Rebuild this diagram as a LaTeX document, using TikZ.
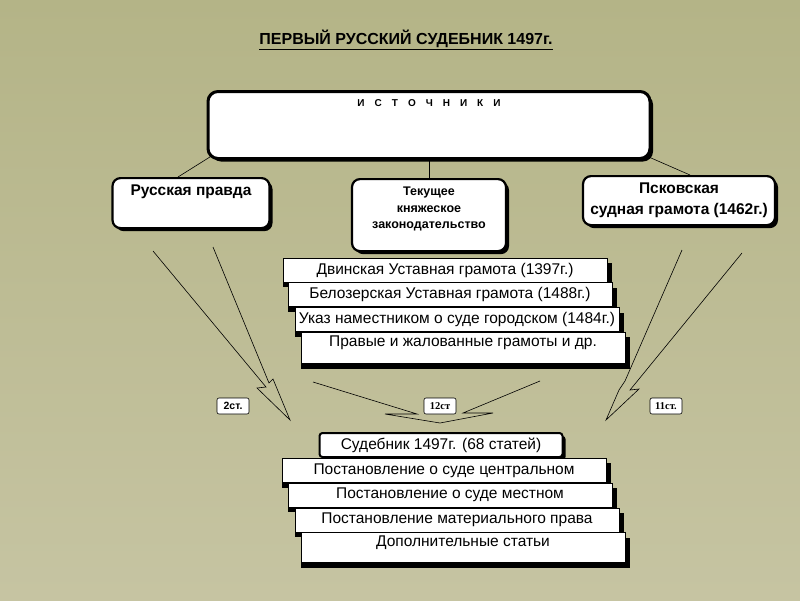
\documentclass[tikz,border=0pt]{standalone}
\usepackage{fontspec}
\setmainfont{Liberation Sans}
\newfontfamily\tagserif{Liberation Serif}
\usetikzlibrary{positioning,shadows}
\definecolor{bgtop}{HTML}{B4B487}
\definecolor{bgbottom}{HTML}{C6C4A2}

\begin{document}
\begin{tikzpicture}[x=1pt, y=-1pt,
  srcbox/.style={rectangle, rounded corners=8pt, draw=black, line width=2.2pt, fill=white,
                 align=center, inner sep=5pt,
                 drop shadow={shadow xshift=3pt, shadow yshift=-3pt, fill=black, opacity=1}},
  listbox/.style={rectangle, draw=black, line width=0.8pt, fill=white, minimum width=324pt,
                  minimum height=24pt, inner sep=0pt, font=\fontsize{15.5}{17}\selectfont,
                  drop shadow={shadow xshift=2.5pt, shadow yshift=-5pt, shadow scale=1.015,
                               fill=black, opacity=1}},
  tag/.style={rectangle, rounded corners=2pt, draw=black, line width=0.6pt, fill=white,
              minimum width=32pt, minimum height=16pt, inner sep=1pt,
              font=\bfseries\fontsize{10.5}{12}\selectfont},
  lnk/.style={draw=black, line width=0.6pt},
  hollow/.style={draw=black, line width=0.6pt, line join=miter}
]
  \shade[top color=bgtop, bottom color=bgbottom] (0,0) rectangle (800,600);
  \useasboundingbox (0,0) rectangle (800,600);

  \node[font=\bfseries\fontsize{16}{18}\selectfont] (title) at (406,40) {\underline{ПЕРВЫЙ РУССКИЙ СУДЕБНИК 1497г.}};

  % sources
  \node[srcbox, rounded corners=10pt, line width=3pt, minimum width=442pt, minimum height=67pt,
        anchor=north, font=\bfseries\fontsize{10}{11}\selectfont, text height=8pt, text depth=45pt]
        (sources) at (429,90) {\spaceskip=10pt И С Т О Ч Н И К И};
  \node[srcbox, minimum width=157pt, minimum height=50pt, anchor=north,
        font=\bfseries\fontsize{15.5}{17}\selectfont, text height=12pt, text depth=28pt]
        (pravda) at (191,177) {Русская правда};
  \node[srcbox, minimum width=154pt, minimum height=72pt, anchor=north,
        font=\bfseries\fontsize{12.5}{16.5}\selectfont]
        (tekush) at (429,178) {Текущее\\княжеское\\законодательство\rule[-14pt]{0pt}{0pt}};
  \node[srcbox, minimum width=192pt, minimum height=49pt, anchor=north, inner sep=2pt,
        font=\bfseries\fontsize{15.5}{21}\selectfont]
        (pskov) at (679,175) {Псковская\\судная грамота (1462г.)};

  \draw[lnk] ([xshift=5pt, yshift=4pt]sources.south west) -- ([xshift=-13pt]pravda.north);
  \draw[lnk] (sources) -- (tekush);
  \draw[lnk] ([xshift=-5pt, yshift=4pt]sources.south east) -- ([xshift=11pt]pskov.north);

  % princely acts
  \node[listbox] (dvina) at (445,270) {Двинская Уставная грамота (1397г.)};
  \node[listbox, below=0pt of dvina, xshift=5pt] (beloz) {Белозерская Уставная грамота (1488г.)};
  \node[listbox, below=0pt of beloz, xshift=7pt] (ukaz) {Указ наместником о суде городском (1484г.)};
  \node[listbox, below=0pt of ukaz, xshift=6pt, minimum height=31pt, text depth=13pt] (pravye) {Правые и жалованные грамоты и др.};

  % arrows into the code
  \draw[hollow] (153,251) -- (266,387) -- (257,388) -- (290,420) -- (273,379) -- (269,383) -- (213,247);
  \draw[hollow] (313,382) -- (417,414) -- (385,414) -- (440,423) -- (493,413) -- (463,413) -- (540,381);
  \draw[hollow] (682,250) -- (625,381) -- (619,390) -- (606,420) -- (639,389) -- (630,390) -- (742,253);

  \node[tag] (st2) at (233,406) {2ст.};
  \node[tag, font=\tagserif\bfseries\fontsize{10.5}{12}\selectfont] (st12) at (440,406) {12ст};
  \node[tag, font=\tagserif\bfseries\fontsize{10.5}{12}\selectfont] (st11) at (666,406) {11ст.};

  % the code of 1497
  \node[srcbox, rounded corners=3pt, line width=2pt, minimum width=243pt, minimum height=24pt,
        inner sep=0pt, font=\fontsize{15.5}{17}\selectfont] (sudebnik) at (441,445) {Судебник 1497г. (68 статей)};
  \node[listbox, below=0pt of sudebnik, xshift=3pt] (central) {Постановление о суде центральном};
  \node[listbox, below=0pt of central, xshift=6pt] (mestn) {Постановление о суде местном};
  \node[listbox, below=0pt of mestn, xshift=7pt] (mater) {Постановление материального права};
  \node[listbox, below=0pt of mater, xshift=6pt, minimum height=30pt, text depth=13pt] (dopoln) {Дополнительные статьи};
\end{tikzpicture}
\end{document}
